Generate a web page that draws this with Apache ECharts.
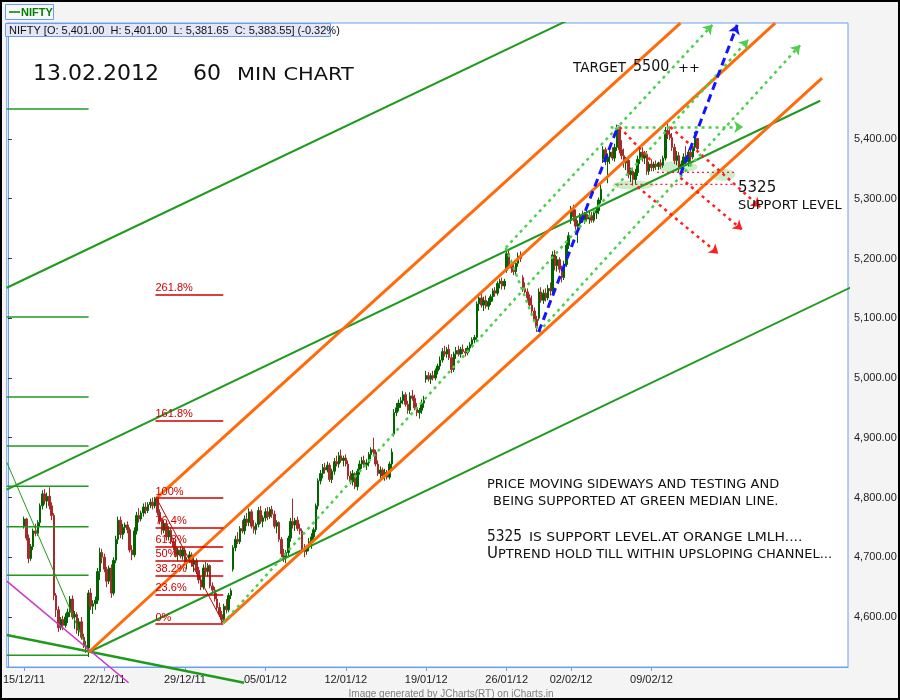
<!DOCTYPE html>
<html><head><meta charset="utf-8">
<script src="https://cdn.jsdelivr.net/npm/echarts@6/dist/echarts.min.js"></script>
<style>html,body{margin:0;padding:0;background:#fff}#c{width:900px;height:700px}</style>
</head><body><div id="c"></div>
<script>
// ---------------- DATA ----------------
const days = ['14/12/11','15/12/11','16/12/11','19/12/11','20/12/11','21/12/11','22/12/11','23/12/11','26/12/11','27/12/11','28/12/11','29/12/11','30/12/11',
  '02/01/12','03/01/12','04/01/12','05/01/12','06/01/12','09/01/12','10/01/12','11/01/12','12/01/12','13/01/12','16/01/12','17/01/12','18/01/12','19/01/12','20/01/12',
  '23/01/12','24/01/12','25/01/12','27/01/12','30/01/12','31/01/12','01/02/12','02/02/12','03/02/12','06/02/12','07/02/12','08/02/12','09/02/12','10/02/12','13/02/12'];
const hours = ['09:15','10:15','11:15','12:15','13:15','14:15','15:15'];
const futureSlots = 65;
const firstCandleDay = '15/12/11';
const tickDays   = ['15/12/11','22/12/11','29/12/11','05/01/12','12/01/12','19/01/12','27/01/12','02/02/12','09/02/12'];
const tickLabels = ['15/12/11','22/12/11','29/12/11','05/01/12','12/01/12','19/01/12','26/01/12','02/02/12','09/02/12'];
const yTicks = [4600,4700,4800,4900,5000,5100,5200,5300,5400];
const yRange = [4516.3, 5594.1];

// hourly candles [open, high, low, close], from 15/12/11 09:15
const candles = [
[4752,4768,4748,4764],[4764,4766,4728,4732],[4732,4738,4690,4698],[4698,4722,4694,4718],[4718,4748,4712,4744],[4744,4756,4735,4740],[4740,4762,4736,4758],
[4758,4790,4752,4786],[4786,4812,4780,4806],[4806,4814,4788,4794],[4794,4808,4782,4802],[4802,4817,4780,4786],[4786,4792,4762,4770],[4770,4774,4628,4636],
[4636,4640,4600,4612],[4612,4618,4575,4582],[4582,4600,4578,4596],[4596,4602,4578,4586],[4586,4606,4582,4600],[4600,4614,4590,4608],[4608,4635,4600,4630],
[4630,4636,4596,4600],[4600,4610,4580,4604],[4604,4608,4572,4578],[4578,4598,4568,4592],[4592,4600,4562,4566],[4566,4572,4548,4552],[4552,4560,4540,4548],
[4548,4645,4533,4640],[4640,4648,4612,4618],[4618,4628,4605,4622],[4622,4634,4612,4628],[4628,4682,4622,4676],[4676,4716,4662,4708],[4708,4714,4690,4700],
[4700,4706,4675,4680],[4680,4684,4650,4660],[4660,4686,4655,4682],[4682,4688,4632,4640],[4640,4700,4636,4695],[4695,4736,4690,4730],[4730,4768,4722,4762],
[4762,4768,4732,4738],[4738,4756,4730,4750],[4750,4758,4740,4754],[4754,4760,4740,4746],[4746,4750,4708,4712],[4712,4720,4695,4704],[4704,4750,4700,4744],
[4744,4776,4738,4770],[4770,4782,4758,4764],[4764,4778,4760,4774],[4774,4790,4768,4784],[4784,4792,4772,4778],[4778,4792,4774,4788],[4788,4798,4782,4792],
[4792,4800,4780,4786],[4786,4801,4782,4798],[4798,4800,4770,4775],[4775,4780,4755,4760],[4760,4766,4738,4745],[4745,4762,4740,4756],[4756,4760,4728,4734],
[4734,4752,4728,4745],[4745,4750,4722,4726],[4726,4732,4712,4718],[4718,4730,4700,4704],[4704,4716,4694,4712],[4712,4718,4698,4702],[4702,4716,4696,4712],
[4712,4716,4686,4690],[4690,4700,4680,4696],[4696,4710,4690,4704],[4704,4708,4684,4688],[4688,4700,4675,4694],[4694,4698,4672,4678],[4678,4684,4656,4662],
[4662,4668,4645,4650],[4650,4688,4646,4682],[4682,4692,4670,4676],[4676,4690,4668,4686],[4686,4688,4648,4652],[4652,4658,4640,4645],[4645,4650,4626,4630],
[4630,4640,4612,4616],[4616,4624,4600,4604],[4604,4610,4590,4596],[4596,4622,4592,4618],[4618,4630,4606,4612],[4612,4640,4608,4636],[4636,4648,4630,4644],
[4680,4720,4676,4716],[4716,4736,4710,4730],[4730,4742,4722,4726],[4726,4752,4722,4748],[4748,4762,4740,4744],[4744,4770,4738,4764],[4764,4774,4752,4758],
[4758,4782,4752,4776],[4776,4780,4748,4752],[4752,4762,4740,4746],[4746,4758,4738,4755],[4755,4784,4750,4778],[4778,4786,4756,4760],[4760,4770,4750,4766],
[4766,4782,4760,4776],[4776,4784,4762,4768],[4768,4784,4764,4780],[4780,4786,4766,4772],[4772,4778,4748,4752],[4752,4762,4740,4758],[4758,4760,4726,4730],
[4730,4734,4700,4706],[4706,4714,4692,4700],[4700,4712,4690,4708],[4708,4736,4702,4732],[4732,4766,4726,4760],[4760,4798,4748,4754],[4754,4766,4744,4762],
[4762,4768,4744,4748],[4748,4756,4738,4744],[4744,4748,4708,4714],[4714,4722,4700,4710],[4710,4720,4704,4716],[4716,4732,4710,4726],[4726,4740,4714,4734],
[4734,4750,4728,4746],[4746,4790,4742,4786],[4786,4832,4780,4828],[4828,4846,4822,4840],[4840,4856,4832,4850],[4850,4858,4840,4846],[4846,4860,4842,4854],
[4854,4858,4826,4830],[4830,4848,4824,4844],[4844,4866,4838,4860],[4860,4870,4852,4856],[4856,4876,4850,4870],[4870,4880,4858,4862],[4862,4870,4852,4866],
[4866,4872,4852,4856],[4856,4862,4830,4836],[4836,4844,4822,4826],[4826,4846,4820,4840],[4840,4842,4814,4818],[4818,4848,4812,4844],[4844,4862,4838,4856],
[4856,4868,4848,4862],[4862,4870,4850,4854],[4854,4864,4846,4858],[4858,4876,4852,4872],[4872,4884,4864,4880],[4880,4900,4870,4876],[4876,4880,4852,4856],
[4856,4862,4836,4840],[4840,4852,4830,4846],[4846,4850,4832,4836],[4836,4848,4828,4842],[4842,4846,4830,4834],[4834,4860,4830,4856],[4856,4882,4848,4876],
[4906,4948,4902,4942],[4942,4958,4936,4950],[4950,4964,4944,4958],[4958,4968,4950,4962],[4962,4978,4956,4972],[4972,4976,4952,4956],[4956,4962,4940,4946],
[4946,4976,4940,4970],[4970,4980,4962,4966],[4966,4972,4946,4950],[4950,4958,4936,4942],[4942,4950,4932,4946],[4946,4964,4940,4958],[4958,4970,4950,4962],
[4998,5012,4992,5004],[5004,5010,4994,4998],[4998,5008,4990,5004],[5004,5012,4996,5000],[5000,5016,4996,5012],[5012,5024,5006,5020],[5020,5036,5014,5030],
[5030,5050,5026,5044],[5044,5054,5036,5040],[5040,5052,5034,5048],[5048,5056,5030,5034],[5034,5040,5008,5014],[5014,5044,5010,5040],[5040,5052,5032,5046],
[5046,5054,5036,5040],[5040,5052,5034,5048],[5048,5056,5040,5044],[5044,5050,5036,5042],[5042,5054,5038,5050],[5050,5060,5044,5056],[5056,5068,5052,5064],
[5064,5072,5058,5068],[5068,5128,5064,5124],[5124,5140,5112,5134],[5134,5142,5118,5122],[5122,5136,5112,5130],[5130,5138,5116,5120],[5120,5134,5114,5128],
[5128,5140,5122,5136],[5136,5150,5128,5146],[5146,5152,5136,5142],[5142,5162,5138,5158],[5158,5166,5150,5162],[5162,5168,5148,5154],[5154,5166,5148,5162],
[5180,5218,5176,5208],[5208,5214,5184,5190],[5190,5198,5176,5184],[5184,5194,5172,5178],[5178,5196,5174,5192],[5192,5210,5186,5204],[5204,5212,5194,5200],
[5168,5172,5144,5150],[5150,5160,5138,5144],[5144,5150,5128,5134],[5134,5140,5116,5122],[5122,5138,5106,5112],[5112,5118,5094,5098],[5098,5104,5077,5084],
[5100,5150,5096,5144],[5144,5152,5126,5130],[5130,5148,5124,5142],[5142,5150,5128,5134],[5134,5156,5130,5150],[5150,5160,5138,5146],[5146,5212,5142,5206],
[5206,5214,5180,5188],[5188,5204,5178,5198],[5198,5202,5176,5182],[5182,5188,5160,5168],[5168,5196,5164,5190],[5190,5226,5186,5222],[5222,5244,5216,5238],
[5264,5288,5258,5282],[5282,5290,5262,5270],[5270,5282,5248,5254],[5254,5264,5226,5258],[5258,5276,5254,5272],[5272,5280,5260,5264],[5264,5278,5258,5274],
[5274,5280,5262,5266],[5266,5278,5258,5272],[5272,5278,5260,5264],[5264,5280,5260,5276],[5276,5284,5266,5280],[5280,5302,5274,5298],[5298,5324,5292,5316],
[5366,5388,5360,5382],[5382,5386,5356,5362],[5362,5376,5326,5370],[5370,5384,5358,5378],[5378,5386,5364,5368],[5368,5392,5362,5386],[5386,5424,5380,5416],
[5416,5420,5376,5382],[5382,5398,5366,5372],[5372,5384,5352,5360],[5360,5370,5348,5364],[5364,5368,5334,5340],[5340,5352,5328,5346],[5346,5352,5322,5332],
[5332,5350,5324,5344],[5344,5372,5338,5366],[5366,5384,5358,5378],[5378,5386,5362,5368],[5368,5380,5358,5374],[5374,5380,5340,5346],[5346,5362,5340,5358],
[5358,5366,5346,5352],[5352,5362,5346,5358],[5358,5364,5348,5354],[5354,5362,5348,5360],[5360,5366,5350,5356],[5356,5372,5352,5368],[5368,5420,5364,5414],
[5414,5426,5400,5408],[5408,5422,5398,5402],[5402,5410,5380,5386],[5386,5392,5358,5364],[5364,5380,5356,5372],[5372,5378,5344,5350],[5350,5364,5336,5358],
[5358,5376,5350,5370],[5370,5388,5356,5362],[5362,5382,5354,5378],[5378,5386,5362,5370],[5370,5390,5366,5386],[5386,5412,5380,5401],[5401,5401,5381.65,5383.55]
];

// Drawn annotations, anchors as [bar index, price]
const greenPitchClipped = [ [[-0.5,5151],[258,5625]], [[-0.5,4813],[353.4,5464]] ];
const greenPitchFree    = [ [[35.1,4541],[388.1,5191]] ];
const greenDescLine     = [[-0.5,4570],[102.8,4490]];
const thinGreenLine     = [[-0.5,4859],[35.1,4541]];
const magentaLine       = [[-0.5,4660],[52.5,4490]];
const levelPrices = [5450,5102,4968,4886,4819,4751,4670,4536];
const levelSpan   = [-0.5, 35.1];
const orangeLines = [ [[35.1,4541],[333.8,5594]], [[64.6,4799],[292.6,5594]], [[93.7,4590],[354.2,5502]] ];
const fibNames  = ['0%','23.6%','38.2%','50%','61.8%','76.4%','100%','161.8%','261.8%'];
const fibPrices = [4588,4638,4669,4694,4718,4749,4799,4929,5139];
const fibSpan   = [64.2, 93.7];
const fibSwing  = [[64.6,4799],[93.7,4590]];
const greenArrowLines = [ [[93.7,4590],[322.1,5566]], [[216.6,5218],[306.5,5591]], [[230.9,5077],[344.7,5557]], [[262.2,5420],[319.9,5420]] ];
const greenDottedLines = [ [[216.6,5218],[230.9,5077]] ];
const blueLine       = [[230.9,5077],[265.6,5423]];
const blueArrowLines = [ [[292.6,5340],[317.3,5591]] ];
const redArrowLines  = [ [[288.2,5420],[327.3,5286]], [[273.9,5320],[309.1,5208]], [[292.6,5335],[319.5,5248]] ];
const redDottedLine  = [[266.1,5420],[279.5,5365]];
const redLevelPrices = [5344, 5324];
const redLevelStarts = [282.4, 264.3];
const redLevelEnd    = 316.4;
const blobCenters = [[272.2,5323],[291.3,5353],[310.8,5340]];
const blobSizes   = [[42,9],[40,12],[26,12]];

// ---------------- BUILD ----------------
const categories = [];
days.forEach(d => hours.forEach(h => categories.push(d + ' ' + h)));
for (let k = 1; k <= futureSlots; k++) categories.push('+' + k);
const N = categories.length;
const start = days.indexOf(firstCandleDay) * hours.length;
const candleData = candles.map((c, i) => [start + i, c[0], c[3], c[2], c[1]]);
const labelAt = {};
tickDays.forEach((d, i) => { labelAt[days.indexOf(d) * hours.length] = tickLabels[i]; });

const fmt = v => v.toLocaleString('en-US', {minimumFractionDigits: 2, maximumFractionDigits: 2});
const last = candles[candles.length - 1], prev = candles[candles.length - 2];
const pct = ((last[3] - prev[3]) / prev[3] * 100).toFixed(2);
const infoText = 'NIFTY [O: ' + fmt(last[0]) + '  H: ' + fmt(last[1]) + '  L: ' + fmt(last[2]) + '  C: ' + fmt(last[3]) + '] (' + pct + '%)';

const GREEN = '#1f9a1f', ORANGE = '#ff6a0a', LGREEN = '#4ccf4c', BLUE = '#1414ff', RED = '#ff1f1f', FIB = '#cc0000';
function seg(points, color, width, type, clip, z) {
  return {type: 'line', xAxisIndex: 1, yAxisIndex: 0, data: points, symbol: 'none', showSymbol: false,
    lineStyle: {color: color, width: width, type: type || 'solid'}, clip: clip, silent: true, animation: false, z: z || 3};
}
function marks(lines, color, width, type, arrow, z) {
  return {type: 'line', xAxisIndex: 1, yAxisIndex: 0, data: [], symbol: 'none', silent: true, animation: false, z: z || 4,
    markLine: {silent: true, animation: false, symbol: ['none', arrow ? 'arrow' : 'none'], symbolSize: 9,
      label: {show: false}, emphasis: {disabled: true},
      lineStyle: {color: color, width: width, type: type}, z: z || 4,
      data: lines.map(s => [{coord: s[0]}, {coord: s[1]}])}};
}

const series = [];
series.push({type: 'scatter', xAxisIndex: 1, yAxisIndex: 0, silent: true, animation: false, z: 1,
  data: blobCenters.map((c, i) => ({value: c, symbolSize: blobSizes[i]})), symbol: 'circle',
  itemStyle: {color: 'rgba(110,205,110,0.45)'}});
series.push({type: 'candlestick', xAxisIndex: 0, yAxisIndex: 0, data: candleData,
  encode: {x: 0, y: [1, 2, 3, 4]}, barWidth: 2, silent: true, animation: false, z: 2,
  itemStyle: {color: '#006400', color0: '#a52a2a', borderColor: '#006400', borderColor0: '#a52a2a', borderWidth: 1}});
levelPrices.forEach(p => series.push(seg([[levelSpan[0], p], [levelSpan[1], p]], GREEN, 1.5, 'solid', true)));
greenPitchClipped.forEach(s => series.push(seg(s, GREEN, 2, 'solid', true)));
greenPitchFree.forEach(s => series.push(seg(s, GREEN, 2, 'solid', false)));
series.push(seg(greenDescLine, GREEN, 2.5, 'solid', false));
series.push(seg(thinGreenLine, GREEN, 1, 'solid', true));
series.push(seg(magentaLine, '#cc33cc', 1.5, 'solid', false));
orangeLines.forEach(s => series.push(seg(s, ORANGE, 3, 'solid', true)));
series.push(seg(fibSwing, FIB, 1, 'solid', true));
series.push({type: 'line', xAxisIndex: 1, yAxisIndex: 0, data: [], symbol: 'none', silent: true, animation: false, z: 4,
  markLine: {silent: true, animation: false, symbol: ['none', 'none'], emphasis: {disabled: true},
    lineStyle: {color: FIB, width: 1.5, type: 'solid'},
    label: {show: true, position: 'insideStartTop', formatter: '{b}', color: FIB, fontSize: 11,
      fontFamily: 'Liberation Sans', distance: [0, 1]},
    data: fibPrices.map((p, i) => [{coord: [fibSpan[0], p], name: fibNames[i]}, {coord: [fibSpan[1], p]}])}});
series.push(marks(greenArrowLines, LGREEN, 2.5, [3, 4], true));
series.push(marks(greenDottedLines, LGREEN, 2.5, [3, 4], false));
series.push(seg(blueLine, BLUE, 3, [8, 5], true, 5));
series.push(marks(blueArrowLines, BLUE, 3, [8, 5], true, 5));
series.push(marks(redArrowLines, RED, 2.5, [3, 4], true));
series.push(marks([redDottedLine], RED, 2.5, [3, 4], false));
redLevelPrices.forEach((p, i) => series.push(seg([[redLevelStarts[i], p], [redLevelEnd, p]], RED, 1.2, [2, 3], true)));

const FONT = 'DejaVu Sans';
function txt(x, y, text, size, extra) {
  return Object.assign({type: 'text', x: x, y: y, z: 200, silent: true,
    style: {text: text, fontSize: size, fontFamily: FONT, fill: '#111', verticalAlign: 'middle', align: 'left'}}, extra || {});
}

const option = {
  animation: false,
  backgroundColor: '#f4f4f4',
  grid: {left: 5, right: 52, top: 23, bottom: 33, show: true, backgroundColor: '#ffffff', borderColor: '#6d9eeb', borderWidth: 1},
  xAxis: [
    {type: 'category', data: categories, boundaryGap: true,
      axisLine: {show: true, lineStyle: {color: '#6d9eeb'}},
      axisTick: {show: true, alignWithLabel: true, length: 4, interval: i => labelAt[i] !== undefined, lineStyle: {color: '#6d9eeb'}},
      axisLabel: {show: true, interval: i => labelAt[i] !== undefined, formatter: (v, i) => labelAt[i] || '',
        color: '#222', fontSize: 11, fontFamily: 'Liberation Sans', margin: 7},
      splitLine: {show: false}},
    {type: 'value', min: -0.5, max: N - 0.5, show: false, splitLine: {show: false}}
  ],
  yAxis: [{type: 'value', position: 'right', min: yRange[0], max: yRange[1], scale: true,
    axisLine: {show: true, lineStyle: {color: '#6d9eeb'}},
    axisTick: {show: true, length: 4, customValues: yTicks, lineStyle: {color: '#333'}},
    axisLabel: {show: true, customValues: yTicks, formatter: v => fmt(v), color: '#222', fontSize: 11, fontFamily: 'Liberation Sans', margin: 6},
    splitLine: {show: false}}],
  series: series,
  graphic: [
    {type: 'rect', z: 190, silent: true, shape: {x: 5.5, y: 4.5, width: 48, height: 15}, style: {fill: '#f8f8f8', stroke: '#6d9eeb', lineWidth: 1}},
    {type: 'line', z: 191, silent: true, shape: {x1: 9, y1: 12, x2: 20, y2: 12}, style: {stroke: '#008000', lineWidth: 1.5}},
    {type: 'text', z: 191, silent: true, x: 21, y: 12.5, style: {text: 'NIFTY', fontSize: 11, fontWeight: 'bold', fontFamily: 'Liberation Sans', fill: '#008000', verticalAlign: 'middle'}},
    {type: 'rect', z: 190, silent: true, shape: {x: 5.5, y: 23.5, width: 325, height: 13}, style: {fill: '#e3e7f8', stroke: '#6d9eeb', lineWidth: 1}},
    {type: 'text', z: 191, silent: true, x: 9, y: 30.5, style: {text: infoText, fontSize: 11, fontFamily: 'Liberation Sans', fill: '#111', verticalAlign: 'middle'}},
    txt(33, 74, '13.02.2012', 22),
    txt(193, 74, '60', 22),
    txt(237, 75.5, 'MIN CHART', 18, {scaleX: 1.16}),
    txt(573, 68.5, 'TARGET', 13.5),
    txt(633, 67.5, '5500', 15, {scaleX: 0.95}),
    txt(678, 68.5, '++', 13),
    txt(738, 188, '5325', 15),
    txt(738, 206, 'SUPPORT LEVEL', 13),
    txt(487, 484.5, 'PRICE MOVING SIDEWAYS AND TESTING AND', 13),
    txt(493, 502, 'BEING SUPPORTED AT GREEN MEDIAN LINE.', 13),
    txt(487, 536.5, '5325', 16, {scaleX: 0.86}),
    txt(529, 538, 'IS SUPPORT LEVEL.AT ORANGE LMLH....', 13, {scaleX: 1.07}),
    txt(487, 554, 'U', 15),
    txt(498, 555, 'PTREND HOLD TILL WITHIN UPSLOPING CHANNEL...', 13),
    {type: 'text', z: 191, silent: true, x: 451, y: 694, style: {text: 'Image generated by JCharts(RT) on iCharts.in', fontSize: 10, fontFamily: 'Liberation Sans', fill: '#808080', align: 'center', verticalAlign: 'middle'}},
    {type: 'rect', z: 210, silent: true, shape: {x: 1, y: 1, width: 898, height: 698}, style: {fill: 'none', stroke: '#000', lineWidth: 2}}
  ]
};
const chart = echarts.init(document.getElementById('c'), null, {renderer: 'canvas'});
chart.setOption(option);
</script></body></html>
